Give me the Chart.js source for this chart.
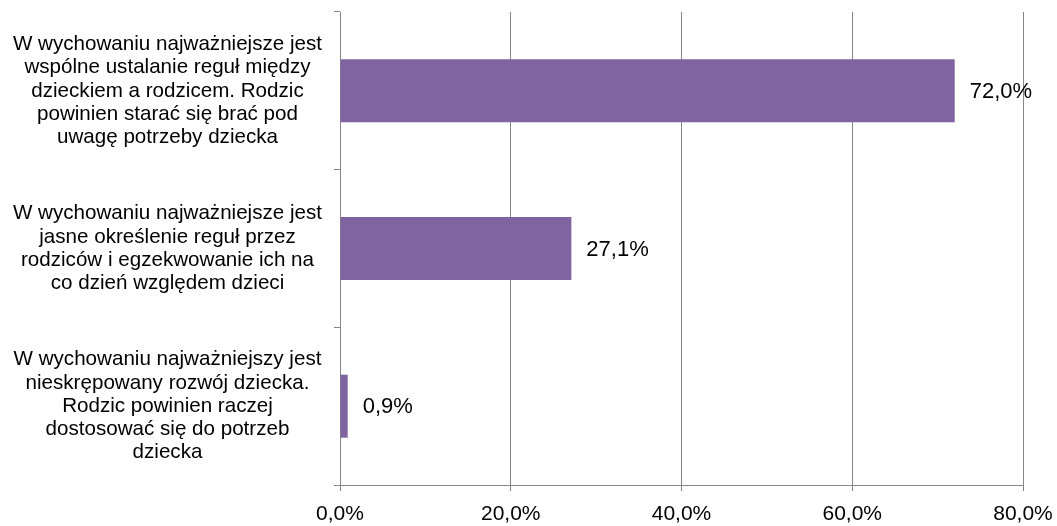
<!DOCTYPE html>
<html>
<head>
<meta charset="utf-8">
<script src="https://cdn.jsdelivr.net/npm/chart.js@4.4.1/dist/chart.umd.min.js"></script>
<style>
  html, body { margin: 0; padding: 0; background: #ffffff; }
  #wrap { width: 1057px; height: 526px; position: relative; }
</style>
</head>
<body>
<div id="wrap"><canvas id="c" width="1057" height="526"></canvas></div>
<script>
const categories = [
  ['W wychowaniu najważniejsze jest', 'wspólne ustalanie reguł między', 'dzieckiem a rodzicem. Rodzic', 'powinien starać się brać pod', 'uwagę potrzeby dziecka'],
  ['W wychowaniu najważniejsze jest', 'jasne określenie reguł przez', 'rodziców i egzekwowanie ich na', 'co dzień względem dzieci'],
  ['W wychowaniu najważniejszy jest', 'nieskrępowany rozwój dziecka.', 'Rodzic powinien raczej', 'dostosować się do potrzeb', 'dziecka']
];
const values = [72.0, 27.1, 0.9];
const valueLabels = ['72,0%', '27,1%', '0,9%'];
const xTickValues = [0, 20, 40, 60, 80];
const xTickLabels = ['0,0%', '20,0%', '40,0%', '60,0%', '80,0%'];

const FONT = "'Liberation Sans', Arial, sans-serif";
const GRID = '#868686';

const valueLabelPlugin = {
  id: 'valueLabels',
  afterDatasetsDraw(chart) {
    const ctx = chart.ctx;
    const meta = chart.getDatasetMeta(0);
    ctx.save();
    ctx.font = "22px " + FONT;
    ctx.fillStyle = '#000000';
    ctx.textAlign = 'left';
    ctx.textBaseline = 'middle';
    meta.data.forEach((bar, i) => {
      ctx.fillText(valueLabels[i], bar.x + 15, bar.y + 1);
    });
    ctx.restore();
  }
};

new Chart(document.getElementById('c'), {
  type: 'bar',
  data: {
    labels: categories,
    datasets: [{
      data: values,
      backgroundColor: '#8064A2',
      borderWidth: 0,
      categoryPercentage: 0.4,
      barPercentage: 1.0
    }]
  },
  options: {
    indexAxis: 'y',
    responsive: false,
    animation: false,
    devicePixelRatio: 1,
    layout: { padding: { left: 0, right: 34, top: 12, bottom: 0 } },
    plugins: {
      legend: { display: false },
      tooltip: { enabled: false }
    },
    scales: {
      x: {
        min: 0,
        max: 80,
        afterBuildTicks(scale) {
          scale.ticks = xTickValues.map(v => ({ value: v }));
        },
        afterFit(scale) {
          scale.height = 41;
          scale.paddingLeft = 0;
          scale.paddingRight = 0;
        },
        ticks: {
          color: '#000000',
          font: { family: FONT, size: 21 },
          padding: 11,
          maxRotation: 0,
          callback: (v, i) => xTickLabels[i]
        },
        grid: {
          color: GRID,
          lineWidth: 1,
          drawTicks: true,
          tickLength: 6
        },
        border: { display: true, color: GRID, width: 1 }
      },
      y: {
        afterFit(scale) {
          scale.width = 340;
          scale.paddingTop = 0;
          scale.paddingBottom = 0;
        },
        ticks: {
          color: '#000000',
          font: { family: FONT, size: 20.6, lineHeight: 1.13 },
          crossAlign: 'center',
          padding: 12
        },
        grid: {
          offset: true,
          drawOnChartArea: false,
          drawTicks: true,
          tickLength: 6,
          color: GRID,
          lineWidth: 1
        },
        border: { display: true, color: GRID, width: 1 }
      }
    }
  },
  plugins: [valueLabelPlugin]
});
</script>
</body>
</html>
